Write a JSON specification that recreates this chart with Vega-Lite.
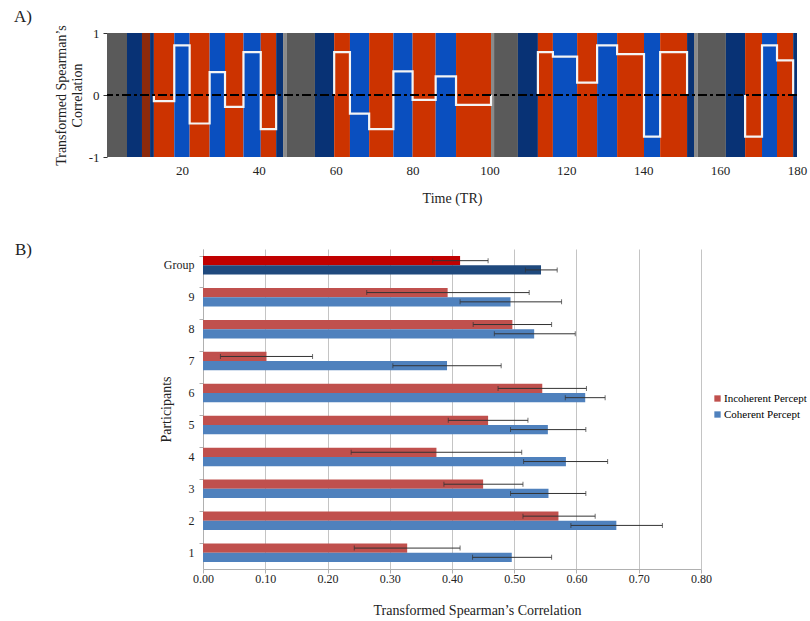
{
  "$schema": "https://vega.github.io/schema/vega-lite/v6.json",
  "background": "white",
  "padding": {"left": 14, "top": 7, "right": 2, "bottom": 3},
  "config": {
    "font": "'Liberation Serif', serif",
    "view": {"stroke": null},
    "axis": {"labelFont": "'Liberation Serif', serif", "titleFont": "'Liberation Serif', serif", "titleFontWeight": "normal", "labelColor": "#222", "titleColor": "#222"},
    "legend": {"labelFont": "'Liberation Serif', serif"},
    "title": {"font": "'Liberation Serif', serif", "fontWeight": "normal", "color": "#222"}
  },
  "bounds": "flush",
  "center": true,
  "spacing": 92,
  "resolve": {"scale": {"color": "independent", "x": "independent", "y": "independent"}, "legend": {"color": "independent"}},
  "datasets": {
    "bands": [
      {"start": 0, "end": 5.7, "kind": "rest"},
      {"start": 5.7, "end": 9.6, "kind": "cue"},
      {"start": 9.6, "end": 11.7, "kind": "brown"},
      {"start": 11.7, "end": 12.7, "kind": "cue"},
      {"start": 12.7, "end": 18, "kind": "incoherent"},
      {"start": 18, "end": 22, "kind": "coherent"},
      {"start": 22, "end": 27.2, "kind": "incoherent"},
      {"start": 27.2, "end": 31.2, "kind": "coherent"},
      {"start": 31.2, "end": 36, "kind": "incoherent"},
      {"start": 36, "end": 40.5, "kind": "coherent"},
      {"start": 40.5, "end": 44.5, "kind": "incoherent"},
      {"start": 44.5, "end": 46.3, "kind": "cue"},
      {"start": 46.3, "end": 47.3, "kind": "edge"},
      {"start": 47.3, "end": 54.6, "kind": "rest"},
      {"start": 54.6, "end": 59.6, "kind": "cue"},
      {"start": 59.6, "end": 63.7, "kind": "incoherent"},
      {"start": 63.7, "end": 68.7, "kind": "coherent"},
      {"start": 68.7, "end": 75, "kind": "incoherent"},
      {"start": 75, "end": 80, "kind": "coherent"},
      {"start": 80, "end": 86, "kind": "incoherent"},
      {"start": 86, "end": 91.3, "kind": "coherent"},
      {"start": 91.3, "end": 100.4, "kind": "incoherent"},
      {"start": 100.4, "end": 101.2, "kind": "edge"},
      {"start": 101.2, "end": 107.4, "kind": "rest"},
      {"start": 107.4, "end": 112.6, "kind": "cue"},
      {"start": 112.6, "end": 116.5, "kind": "incoherent"},
      {"start": 116.5, "end": 122.8, "kind": "coherent"},
      {"start": 122.8, "end": 128, "kind": "incoherent"},
      {"start": 128, "end": 133.2, "kind": "coherent"},
      {"start": 133.2, "end": 140.2, "kind": "incoherent"},
      {"start": 140.2, "end": 144.4, "kind": "coherent"},
      {"start": 144.4, "end": 151.4, "kind": "incoherent"},
      {"start": 151.4, "end": 153.2, "kind": "cue"},
      {"start": 153.2, "end": 154.2, "kind": "edge"},
      {"start": 154.2, "end": 161.5, "kind": "rest"},
      {"start": 161.5, "end": 166.5, "kind": "cue"},
      {"start": 166.5, "end": 170.9, "kind": "incoherent"},
      {"start": 170.9, "end": 174.8, "kind": "coherent"},
      {"start": 174.8, "end": 179, "kind": "incoherent"},
      {"start": 179, "end": 180, "kind": "cue"}
    ],
    "corr": [
      {"run": 1, "i": 1, "t": 12.7, "r": 0},
      {"run": 1, "i": 2, "t": 12.7, "r": -0.1},
      {"run": 1, "i": 3, "t": 18, "r": 0.8},
      {"run": 1, "i": 4, "t": 22, "r": -0.46},
      {"run": 1, "i": 5, "t": 27.2, "r": 0.37},
      {"run": 1, "i": 6, "t": 31.2, "r": -0.19},
      {"run": 1, "i": 7, "t": 36, "r": 0.69},
      {"run": 1, "i": 8, "t": 40.5, "r": -0.55},
      {"run": 1, "i": 9, "t": 44.5, "r": 0},
      {"run": 2, "i": 1, "t": 59.6, "r": 0},
      {"run": 2, "i": 2, "t": 59.6, "r": 0.69},
      {"run": 2, "i": 3, "t": 63.7, "r": -0.3},
      {"run": 2, "i": 4, "t": 68.7, "r": -0.55},
      {"run": 2, "i": 5, "t": 75, "r": 0.38},
      {"run": 2, "i": 6, "t": 80, "r": -0.08},
      {"run": 2, "i": 7, "t": 86, "r": 0.3},
      {"run": 2, "i": 8, "t": 91.3, "r": -0.16},
      {"run": 2, "i": 9, "t": 100.4, "r": 0},
      {"run": 3, "i": 1, "t": 112.6, "r": 0},
      {"run": 3, "i": 2, "t": 112.6, "r": 0.69},
      {"run": 3, "i": 3, "t": 116.5, "r": 0.62},
      {"run": 3, "i": 4, "t": 122.8, "r": 0.2},
      {"run": 3, "i": 5, "t": 128, "r": 0.8},
      {"run": 3, "i": 6, "t": 133.2, "r": 0.66},
      {"run": 3, "i": 7, "t": 140.2, "r": -0.67},
      {"run": 3, "i": 8, "t": 144.4, "r": 0.69},
      {"run": 3, "i": 9, "t": 151.4, "r": 0},
      {"run": 4, "i": 1, "t": 166.5, "r": 0},
      {"run": 4, "i": 2, "t": 166.5, "r": -0.67},
      {"run": 4, "i": 3, "t": 170.9, "r": 0.8},
      {"run": 4, "i": 4, "t": 174.8, "r": 0.56},
      {"run": 4, "i": 5, "t": 179, "r": 0}
    ],
    "bars": [
      {"participant": "Group", "percept": "Incoherent Percept", "value": 0.413, "lo": 0.369, "hi": 0.458},
      {"participant": "Group", "percept": "Coherent Percept", "value": 0.543, "lo": 0.518, "hi": 0.569},
      {"participant": "9", "percept": "Incoherent Percept", "value": 0.393, "lo": 0.263, "hi": 0.524},
      {"participant": "9", "percept": "Coherent Percept", "value": 0.494, "lo": 0.413, "hi": 0.576},
      {"participant": "8", "percept": "Incoherent Percept", "value": 0.497, "lo": 0.434, "hi": 0.56},
      {"participant": "8", "percept": "Coherent Percept", "value": 0.532, "lo": 0.468, "hi": 0.598},
      {"participant": "7", "percept": "Incoherent Percept", "value": 0.102, "lo": 0.028, "hi": 0.176},
      {"participant": "7", "percept": "Coherent Percept", "value": 0.392, "lo": 0.305, "hi": 0.479},
      {"participant": "6", "percept": "Incoherent Percept", "value": 0.545, "lo": 0.474, "hi": 0.616},
      {"participant": "6", "percept": "Coherent Percept", "value": 0.614, "lo": 0.582, "hi": 0.646},
      {"participant": "5", "percept": "Incoherent Percept", "value": 0.458, "lo": 0.394, "hi": 0.522},
      {"participant": "5", "percept": "Coherent Percept", "value": 0.554, "lo": 0.494, "hi": 0.615},
      {"participant": "4", "percept": "Incoherent Percept", "value": 0.375, "lo": 0.238, "hi": 0.512},
      {"participant": "4", "percept": "Coherent Percept", "value": 0.583, "lo": 0.515, "hi": 0.65},
      {"participant": "3", "percept": "Incoherent Percept", "value": 0.45, "lo": 0.387, "hi": 0.514},
      {"participant": "3", "percept": "Coherent Percept", "value": 0.555, "lo": 0.494, "hi": 0.615},
      {"participant": "2", "percept": "Incoherent Percept", "value": 0.571, "lo": 0.514, "hi": 0.63},
      {"participant": "2", "percept": "Coherent Percept", "value": 0.664, "lo": 0.591, "hi": 0.738},
      {"participant": "1", "percept": "Incoherent Percept", "value": 0.328, "lo": 0.243, "hi": 0.413},
      {"participant": "1", "percept": "Coherent Percept", "value": 0.496, "lo": 0.433, "hi": 0.56}
    ]
  },
  "vconcat": [
    {
      "title": {"text": "A)", "anchor": "start", "frame": "group", "dx": -93, "offset": -1, "fontSize": 17},
      "width": 690,
      "height": 124,
      "layer": [
        {
          "data": {"name": "bands"},
          "mark": {"type": "rect", "clip": true},
          "encoding": {
            "x": {"field": "start", "type": "quantitative", "scale": {"domain": [0.5, 180], "nice": false, "zero": false},
              "axis": {"values": [20, 40, 60, 80, 100, 120, 140, 160, 180], "title": "Time (TR)", "grid": false, "domain": false, "ticks": false, "labelFontSize": 13, "titleFontSize": 14, "labelPadding": 7, "titlePadding": 14, "labelFlush": false}},
            "x2": {"field": "end"},
            "color": {"field": "kind", "type": "nominal", "legend": null,
              "scale": {"domain": ["rest", "cue", "brown", "incoherent", "coherent", "edge"], "range": ["#5a5a5a", "#083275", "#8c2a0c", "#cc3300", "#0a4fbf", "#8a8a8a"]}}
          }
        },
        {
          "data": {"name": "corr"},
          "mark": {"type": "line", "interpolate": "step-after", "color": "#f4f4f4", "strokeWidth": 2.2},
          "encoding": {
            "x": {"field": "t", "type": "quantitative"},
            "y": {"field": "r", "type": "quantitative", "scale": {"domain": [-1, 1], "nice": false},
              "axis": {"values": [-1, 0, 1], "labelExpr": "'' + datum.value", "title": ["Transformed Spearman’s", "Correlation"], "grid": false, "domain": false, "ticks": true, "tickSize": 4, "tickColor": "#333", "labelFontSize": 13, "titleFontSize": 14, "labelPadding": 4, "titlePadding": 4, "labelFlush": false}},
            "detail": {"field": "run", "type": "nominal"},
            "order": {"field": "i", "type": "quantitative"}
          }
        },
        {
          "data": {"values": [{"r": 0}]},
          "mark": {"type": "rule", "color": "black", "strokeWidth": 2, "strokeDash": [9, 3, 3, 3]},
          "encoding": {"y": {"field": "r", "type": "quantitative"}}
        }
      ]
    },
    {
      "title": {"text": "B)", "anchor": "start", "frame": "group", "dx": -188, "offset": 0, "dy": 10, "fontSize": 17},
      "width": 498,
      "height": 320,
      "data": {"name": "bars"},
      "encoding": {
        "y": {"field": "participant", "type": "nominal", "sort": ["Group", "9", "8", "7", "6", "5", "4", "3", "2", "1"],
          "scale": {"paddingInner": 0.42, "paddingOuter": 0.22},
          "axis": {"title": "Participants", "titleFontSize": 14, "labelFontSize": 12, "ticks": true, "tickSize": 4, "bandPosition": 0, "domainColor": "#b0b0b0", "tickColor": "#b0b0b0", "labelPadding": 5, "titlePadding": -10}},
        "yOffset": {"field": "percept", "type": "nominal", "sort": ["Incoherent Percept", "Coherent Percept"]}
      },
      "layer": [
        {
          "mark": {"type": "bar"},
          "encoding": {
            "x": {"field": "value", "type": "quantitative", "scale": {"domain": [0, 0.8], "nice": false},
              "axis": {"values": [0, 0.1, 0.2, 0.3, 0.4, 0.5, 0.6, 0.7, 0.8], "format": ".2f", "grid": true, "gridColor": "#c4c4c4", "domainColor": "#b0b0b0", "tickColor": "#b0b0b0", "tickSize": 4, "labelFontSize": 12, "labelPadding": 0, "title": "Transformed Spearman’s Correlation", "titleFontSize": 14, "titlePadding": 19, "titleX": 274, "labelFlush": false}},
            "color": {
              "field": "percept", "type": "nominal",
              "scale": {"domain": ["Incoherent Percept", "Coherent Percept"], "range": ["#c0504d", "#4f81bd"]},
              "legend": {"title": null, "orient": "none", "legendX": 509, "legendY": 144, "symbolType": "square", "symbolSize": 40, "labelFontSize": 11, "rowPadding": 4, "symbolOffset": 0, "labelOffset": 1},
              "condition": [
                {"test": "datum.participant === 'Group' && datum.percept === 'Incoherent Percept'", "value": "#c00000"},
                {"test": "datum.participant === 'Group' && datum.percept === 'Coherent Percept'", "value": "#1f497d"}
              ]
            }
          }
        },
        {
          "mark": {"type": "rule", "color": "#333", "strokeWidth": 1},
          "encoding": {"x": {"field": "lo", "type": "quantitative"}, "x2": {"field": "hi"}}
        },
        {
          "mark": {"type": "tick", "color": "#333", "thickness": 1, "size": 5},
          "encoding": {"x": {"field": "lo", "type": "quantitative"}}
        },
        {
          "mark": {"type": "tick", "color": "#333", "thickness": 1, "size": 5},
          "encoding": {"x": {"field": "hi", "type": "quantitative"}}
        }
      ]
    }
  ]
}
